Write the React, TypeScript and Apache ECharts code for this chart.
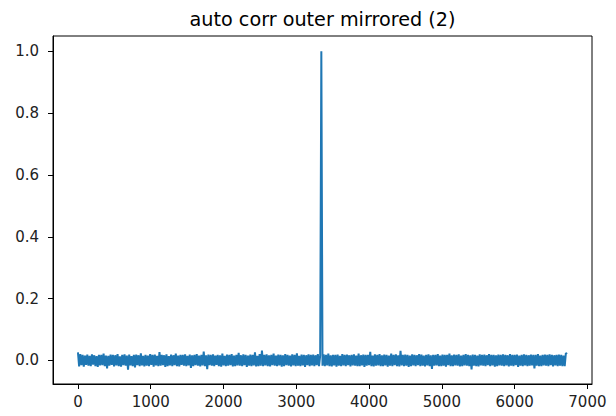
import React, { useEffect, useRef } from "react";
import * as echarts from "echarts";

const TITLE = "auto corr outer mirrored (2)";
const X_STEP = 16; // lag units between successive samples
const X_TICKS = [0, 1000, 2000, 3000, 4000, 5000, 6000, 7000];
const Y_TICKS = [0, 0.2, 0.4, 0.6, 0.8, 1.0];

// autocorrelation values in thousandths
const corrMilli = [
  26, -19, 21, -15, 18, -20, 16, -14, 19, -17, 15, -18, 20, -13, 17, -18, 14, -21, 18, -16,
  18, -15, 22, -18, 16, -26, 15, -17, 19, -14, 18, -19, 17, -16, 21, -18, 13, -20, 18, -15,
  20, -17, 16, -30, 19, -16, 14, -18, 18, -22, 19, -15, 17, -18, 23, -16, 15, -19, 18, -17,
  16, -18, 21, -14, 18, -20, 19, -16, 15, -18, 27, -17, 18, -15, 17, -21, 20, -18, 14, -16,
  19, -18, 17, -15, 22, -18, 16, -19, 18, -14, 18, -17, 20, -18, 15, -16, 19, -24, 17, -18,
  18, -15, 21, -17, 16, -19, 18, -16, 29, -18, 17, -28, 19, -15, 18, -17, 20, -18, 16, -14,
  18, -18, 17, -20, 22, -16, 15, -18, 19, -17, 18, -15, 21, -19, 16, -18, 18, -16, 25, -17,
  17, -18, 20, -15, 18, -21, 16, -17, 19, -18, 18, -16, 26, -19, 15, -18, 21, -17, 32, -18,
  18, -16, 20, -18, 17, -19, 18, -15, 22, -17, 16, -18, 19, -16, 18, -20, 17, -18, 21, -15,
  18, -17, 16, -19, 20, -16, 18, -18, 23, -17, 15, -18, 19, -16, 18, -21, 17, -15, 20, -18,
  18, -16, 19, -18, 17, -15, 21, -18, 16, 1000, -17, 20, -18, 18, -16, 22, -18, 17, -19, 18,
  -16, 18, -20, 19, -17, 15, -18, 21, -16, 18, -18, 19, -15, 17, -19, 18, -16, 20, -17, 16,
  -18, 22, -18, 17, -16, 19, -21, 18, -17, 18, -15, 28, -18, 16, -19, 20, -17, 18, -16, 21,
  -18, 17, -18, 19, -16, 18, -20, 16, -17, 22, -18, 18, -15, 20, -18, 17, -19, 31, -16, 18,
  -18, 19, -17, 18, -21, 16, -18, 20, -16, 18, -18, 17, -15, 21, -18, 19, -17, 16, -19, 18,
  -16, 20, -18, 17, -27, 18, -17, 18, -16, 21, -18, 16, -18, 19, -17, 18, -20, 18, -15, 22,
  -18, 17, -18, 19, -16, 18, -17, 20, -19, 16, -18, 18, -16, 21, -17, 18, -18, 17, -29, 19,
  -17, 18, -18, 16, -19, 20, -16, 18, -17, 19, -18, 17, -15, 21, -18, 18, -16, 18, -20, 17,
  -18, 19, -16, 18, -17, 20, -18, 18, -16, 17, -19, 21, -17, 18, -18, 18, -15, 19, -21, 16,
  -17, 18, -18, 20, -16, 18, -18, 17, -17, 19, -16, 18, -26, 18, -17, 21, -18, 16, -18, 18,
  -16, 19, -17, 18, -18, 20, -15, 18, -19, 17, -16, 18, -18, 19, -17, 18, -18, 16, -18, 24, 21,
];

const FONT = "DejaVu Sans";

export default function App() {
  const ref = useRef<HTMLDivElement>(null);
  useEffect(() => {
    if (!ref.current) return;
    const chart = echarts.init(ref.current, undefined, { renderer: "svg" });
    const data = corrMilli.map((v, i) => [i * X_STEP, v / 1000]);
    chart.setOption({
      animation: false,
      backgroundColor: "#ffffff",
      textStyle: { fontFamily: FONT },
      graphic: [
        {
          type: "text",
          x: 322.5,
          y: 10,
          style: {
            text: TITLE,
            fontFamily: FONT,
            fontSize: 19.2,
            fill: "#000",
            textAlign: "center",
            textVerticalAlign: "top",
          },
        },
      ],
      grid: {
        left: 53,
        top: 36,
        width: 539,
        height: 348,
        show: true,
        borderColor: "#000",
        borderWidth: 1,
        backgroundColor: "transparent",
      },
      xAxis: {
        type: "value",
        min: -343,
        max: 7063,
        splitLine: { show: false },
        axisLine: { show: true, onZero: false, lineStyle: { color: "#000", width: 1 } },
        axisTick: {
          show: true,
          length: 5,
          lineStyle: { color: "#000", width: 1 },
          customValues: X_TICKS,
        },
        axisLabel: {
          show: true,
          margin: 10,
          fontFamily: FONT,
          fontSize: 15,
          color: "#222",
          customValues: X_TICKS,
          formatter: (v: number) => String(v),
        },
      },
      yAxis: {
        type: "value",
        min: -0.076,
        max: 1.049,
        splitLine: { show: false },
        axisLine: { show: true, onZero: false, lineStyle: { color: "#000", width: 1 } },
        axisTick: {
          show: true,
          length: 5,
          lineStyle: { color: "#000", width: 1 },
          customValues: Y_TICKS,
        },
        axisLabel: {
          show: true,
          margin: 14,
          fontFamily: FONT,
          fontSize: 15,
          color: "#222",
          customValues: Y_TICKS,
          formatter: (v: number) => v.toFixed(1),
        },
      },
      series: [
        {
          type: "line",
          data,
          showSymbol: false,
          symbol: "none",
          lineStyle: { color: "#1f77b4", width: 2 },
          emphasis: { disabled: true },
        },
      ],
    });
    return () => chart.dispose();
  }, []);
  return (
    <div
      ref={ref}
      style={{ position: "fixed", left: 0, top: 0, width: 616, height: 416 }}
    />
  );
}
